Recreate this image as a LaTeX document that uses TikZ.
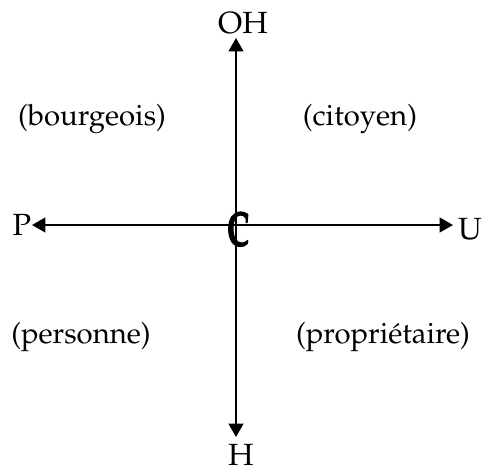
\documentclass[tikz,border=0pt]{standalone}
\usepackage[T1]{fontenc}
\usepackage{mathpazo}
\usetikzlibrary{arrows.meta}

\newcommand{\heavyC}{\special{pdf:literal direct 2 Tr 1.1 w}C\special{pdf:literal direct 0 Tr}}

\tikzset{
  axis/.style={line width=1.5pt,-{Triangle[length=10pt,width=11pt]}},
  pole/.style={inner sep=0pt,font=\fontsize{23}{25}\selectfont},
  role/.style={inner sep=0pt,font=\fontsize{22}{24}\selectfont}
}

\begin{document}
\begin{tikzpicture}[x=0.75pt,y=-0.75pt]
\useasboundingbox (0,0) rectangle (484,469);

% axes
\coordinate (o) at (236,225);
\coordinate (tipP) at (32,225);
\coordinate (tipU) at (453,225);
\coordinate (tipOH) at (236,38);
\coordinate (tipH) at (236,437);
\draw[axis] (o)--(tipP);
\draw[axis] (o)--(tipU);
\draw[axis] (o)--(tipOH);
\draw[axis] (o)--(tipH);

% poles
\node[pole] (P) at (22,225) {P};
\node[pole] (U) at (470,229) {U};
\node[pole] (OH) at (243,23) {OH};
\node[pole] (H) at (241,455) {H};

\node[inner sep=0pt,xscale=.62,font=\fontsize{36}{38}\selectfont\bfseries] (C) at (238,229) {\heavyC};

% quadrants
\node[role] (bourgeois) at (92,119) {(bourgeois)};
\node[role] (citoyen) at (360,119) {(citoyen)};
\node[role] (personne) at (81,337) {(personne)};
\node[role] (proprietaire) at (383,337) {(propriétaire)};

\end{tikzpicture}
\end{document}
